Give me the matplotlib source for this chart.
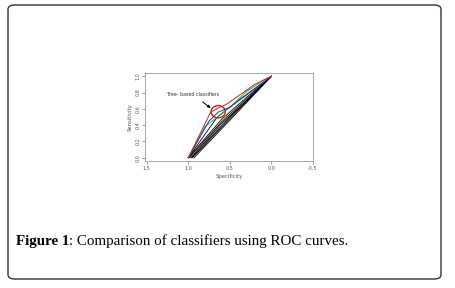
import matplotlib.pyplot as plt
from matplotlib.patches import FancyBboxPatch, Ellipse
from matplotlib.transforms import offset_copy

# ROC curves (specificity, sensitivity)
red_spec = [1.0, 0.73, 0.62, 0.55, 0.38, 0.2, 0.0]
red_sens = [0.0, 0.56, 0.62, 0.65, 0.77, 0.9, 1.0]
blue_spec = [1.0, 0.75, 0.64, 0.5, 0.3, 0.0]
blue_sens = [0.0, 0.45, 0.56, 0.62, 0.77, 1.0]
green_spec = [1.0, 0.8, 0.65, 0.5, 0.3, 0.1, 0.0]
green_sens = [0.0, 0.38, 0.5, 0.62, 0.81, 0.95, 1.0]
black_specs = [
    [1.0, 0.65, 0.4, 0.0],
    [1.0, 0.6, 0.3, 0.0],
    [0.99, 0.6, 0.3, 0.0],
    [0.97, 0.6, 0.3, 0.0],
    [0.96, 0.5, 0.0],
    [0.95, 0.5, 0.0],
    [0.93, 0.5, 0.0],
]
black_senss = [
    [0.0, 0.5, 0.7, 1.0],
    [0.0, 0.47, 0.74, 1.0],
    [0.0, 0.44, 0.72, 1.0],
    [0.0, 0.42, 0.7, 1.0],
    [0.0, 0.5, 1.0],
    [0.0, 0.48, 1.0],
    [0.0, 0.46, 1.0],
]
x_ticks = [1.5, 1.0, 0.5, 0.0, -0.5]
y_ticks = [0.0, 0.2, 0.4, 0.6, 0.8, 1.0]

fig = plt.figure(figsize=(4.56, 2.88), dpi=100)

# rounded frame around the figure
frame = FancyBboxPatch((8 / 456, 9 / 288), 433 / 456, 274 / 288,
                       boxstyle="round,pad=0,rounding_size=0.015",
                       transform=fig.transFigure, fc='none', ec='#333333', lw=1)
fig.patches.append(frame)

ax = fig.add_axes([145 / 456, 1 - 161 / 288, 168 / 456, 88 / 288])
ax.plot([1, 0], [0, 1], color='#cccccc', lw=0.6)
for s, t in zip(black_specs, black_senss):
    ax.plot(s, t, color='black', lw=0.6)
ax.plot(green_spec, green_sens, color='#22bb22', lw=0.7)
ax.plot(blue_spec, blue_sens, color='#2233cc', lw=0.7)
ax.plot(red_spec, red_sens, color='#cc2222', lw=0.7)

ax.add_patch(Ellipse((0.64, 0.565), 0.17, 0.15, fc='none', ec='#dd1111', lw=1))
ax.annotate('Tree- based classifiers', xy=(0.73, 0.61), xytext=(1.25, 0.77),
            fontsize=3.4, va='center', ha='left', color='#333333',
            arrowprops=dict(arrowstyle='-|>', color='black', lw=0.7,
                            mutation_scale=4, shrinkA=2, shrinkB=0),
            )

ax.set_xlim(1.52, -0.5)
ax.set_ylim(-0.04, 1.04)
ax.set_xticks(x_ticks)
ax.set_xticklabels(['1.5', '1.0', '0.5', '0.0', '-0.5'])
ax.set_yticks(y_ticks)
ax.set_yticklabels(['0.0', '0.2', '0.4', '0.6', '0.8', '1.0'], rotation=90, va='center')
ax.tick_params(labelsize=3.5, length=2, width=0.5, colors='#777777', labelcolor='#555555', pad=1.5)
for sp in ax.spines.values():
    sp.set_color('#999999')
    sp.set_linewidth(0.6)
ax.set_xlabel('Specificity', fontsize=3.8, color='#555555', labelpad=2)
ax.set_ylabel('Sensitivity', fontsize=3.8, color='#555555', labelpad=2)

# caption: bold "Figure 1" followed directly by the rest
cap_y = 1 - 241 / 288
t1 = fig.text(16 / 456, cap_y, 'Figure 1', fontsize=10.8, fontweight='bold',
              family='Liberation Serif', va='center', ha='left')
renderer = fig.canvas.get_renderer()
w = t1.get_window_extent(renderer).width
fig.text(16 / 456, cap_y, ': Comparison of classifiers using ROC curves.', fontsize=10.8,
         family='Liberation Serif', va='center', ha='left',
         transform=offset_copy(fig.transFigure, fig=fig, x=w, y=0, units='dots'))

fig.savefig('out.png', dpi=100)
